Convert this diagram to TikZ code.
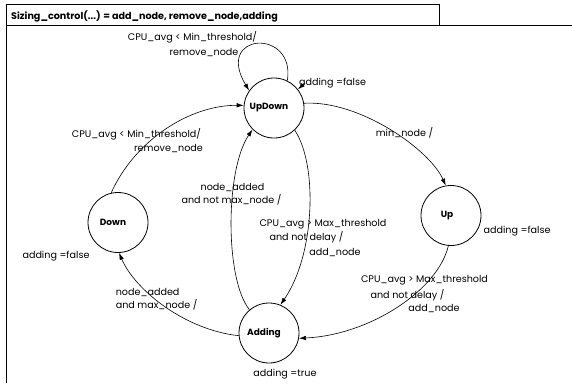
\documentclass[tikz,border=0pt]{standalone}
\usepackage{fontspec}
\setmainfont{Poppins}
\usetikzlibrary{arrows.meta}
\begin{document}
\begin{tikzpicture}[x=1pt,y=-1pt,
  state/.style={circle, draw, line width=0.8pt, minimum size=60pt, inner sep=0pt, font=\fontsize{9}{10}\selectfont\bfseries},
  lbl/.style={inner sep=0pt, font=\fontsize{9.6}{11}\selectfont},
  arr/.style={-{Latex[length=7pt,width=4.5pt]}, line width=0.6pt},
  frame/.style={line width=0.9pt}]
\useasboundingbox (0,0) rectangle (572,383);
% frame
\draw[frame] (6,383) -- (6,4) -- (439,4) -- (439,25.5);
\draw[frame] (6,25.5) -- (572,25.5);
\node[lbl, anchor=west, font=\fontsize{9.6}{10}\selectfont\bfseries] (title) at (11,16) {Sizing\_control(...) = add\_node, remove\_node,adding};
% states
\node[state] (UpDown) at (274,108) {UpDown\hspace*{10pt}};
\node[state] (Down) at (118,222.5) {Down\hspace*{10pt}};
\node[state] (Up) at (451,215.5) {Up\hspace*{8pt}};
\node[state] (Adding) at (269,333) {Adding\hspace*{10pt}};
% labels
\node[lbl] (l1a) at (192.5,37.5) {CPU\_avg < Min\_threshold/};
\node[lbl] (l1b) at (204,52.5) {remove\_node};
\node[lbl] (l2) at (332.5,83.5) {adding =false};
\node[lbl] (l3a) at (136.5,134.5) {CPU\_avg < Min\_threshold/};
\node[lbl] (l3b) at (168.5,149) {remove\_node};
\node[lbl] (l4) at (404.5,133) {min\_node /};
\node[lbl] (l5) at (517,231) {adding =false};
\node[lbl] (l6a) at (232.5,187.5) {node\_added};
\node[lbl] (l6b) at (231.5,200) {and not max\_node /};
\node[lbl] (l7a) at (323,224) {CPU\_avg > Max\_threshold};
\node[lbl] (l7b) at (306.5,237.7) {and not delay /};
\node[lbl] (l7c) at (335,253) {add\_node};
\node[lbl] (l8) at (56,256) {adding =false};
\node[lbl, anchor=west] (l9a) at (115.6,292.7) {node\_added};
\node[lbl, anchor=west] (l9b) at (115.6,305) {and max\_node /};
\node[lbl] (l10a) at (424.5,280.7) {CPU\_avg > Max\_threshold};
\node[lbl] (l10b) at (407.5,295) {and not delay /};
\node[lbl] (l10c) at (434,309) {add\_node};
\node[lbl] (l11) at (285,374) {adding =true};
% connectors
\coordinate (udf) at (305,83);
\draw[arr] (Down.103) .. controls (135,140) and (190,105) .. (UpDown.175);
\draw[arr] (UpDown.64) .. controls (296,28) and (214,32) .. (UpDown.145);
\draw[arr] (udf) -- (UpDown.38);
\draw[arr] (UpDown.9) .. controls (360,100) and (430,150) .. (Up.100);
\draw[arr] (UpDown.-47) .. controls (318,165) and (315,255) .. (Adding.68);
\draw[arr] (Adding.130) .. controls (225,280) and (225,170) .. (UpDown.-135);
\draw[arr] (Up.-95) .. controls (438,290) and (370,335) .. (Adding.-10);
\draw[arr] (Adding.185) .. controls (185,330) and (135,290) .. (Down.-88);
\end{tikzpicture}
\end{document}
